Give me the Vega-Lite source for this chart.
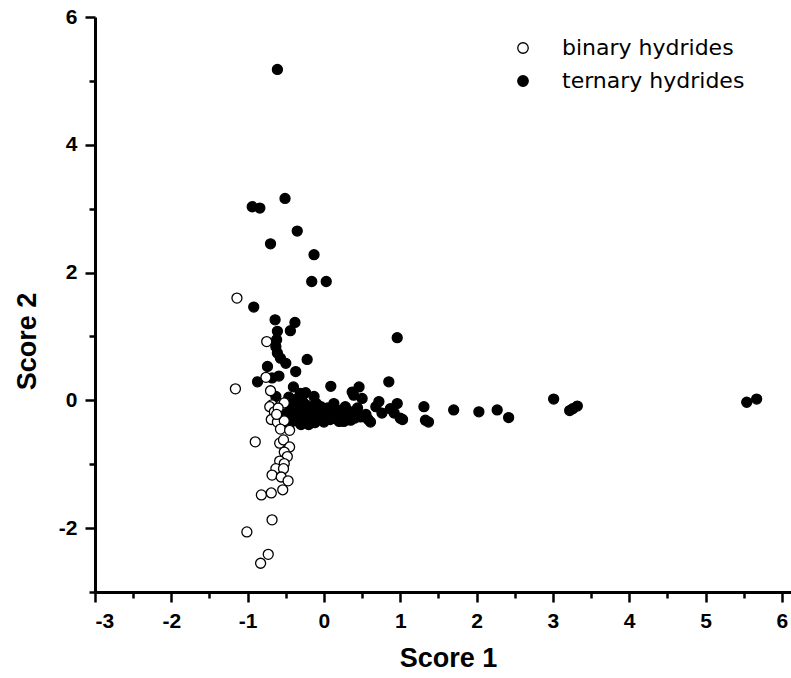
{
  "$schema": "https://vega.github.io/schema/vega-lite/v6.json",
  "autosize": "none",
  "width": 696,
  "height": 575,
  "padding": {"left": 95, "top": 17, "right": 0, "bottom": 86},
  "background": "white",
  "config": {
    "view": {"stroke": null},
    "axis": {
      "grid": false,
      "domainColor": "black",
      "domainWidth": 3,
      "tickColor": "black",
      "tickWidth": 2.5,
      "labelColor": "black",
      "labelFont": "Liberation Sans",
      "labelFontWeight": "bold",
      "labelFontSize": 21,
      "titleFont": "Liberation Sans",
      "titleFontWeight": "bold",
      "titleFontSize": 27,
      "titleColor": "black"
    }
  },
  "datasets": {
    "pts": [
      {"x": -0.61, "y": 5.18, "type": "ternary hydrides"},
      {"x": -0.94, "y": 3.03, "type": "ternary hydrides"},
      {"x": -0.84, "y": 3.01, "type": "ternary hydrides"},
      {"x": -0.51, "y": 3.16, "type": "ternary hydrides"},
      {"x": -0.35, "y": 2.65, "type": "ternary hydrides"},
      {"x": -0.70, "y": 2.45, "type": "ternary hydrides"},
      {"x": -0.13, "y": 2.28, "type": "ternary hydrides"},
      {"x": -0.16, "y": 1.86, "type": "ternary hydrides"},
      {"x": 0.03, "y": 1.86, "type": "ternary hydrides"},
      {"x": -0.92, "y": 1.46, "type": "ternary hydrides"},
      {"x": -0.64, "y": 1.26, "type": "ternary hydrides"},
      {"x": -0.38, "y": 1.22, "type": "ternary hydrides"},
      {"x": -0.44, "y": 1.09, "type": "ternary hydrides"},
      {"x": -0.61, "y": 1.08, "type": "ternary hydrides"},
      {"x": -0.62, "y": 0.95, "type": "ternary hydrides"},
      {"x": -0.63, "y": 0.84, "type": "ternary hydrides"},
      {"x": -0.61, "y": 0.74, "type": "ternary hydrides"},
      {"x": -0.57, "y": 0.66, "type": "ternary hydrides"},
      {"x": -0.22, "y": 0.64, "type": "ternary hydrides"},
      {"x": -0.50, "y": 0.58, "type": "ternary hydrides"},
      {"x": -0.74, "y": 0.53, "type": "ternary hydrides"},
      {"x": -0.37, "y": 0.45, "type": "ternary hydrides"},
      {"x": -0.59, "y": 0.38, "type": "ternary hydrides"},
      {"x": -0.87, "y": 0.29, "type": "ternary hydrides"},
      {"x": -0.68, "y": 0.35, "type": "ternary hydrides"},
      {"x": 0.09, "y": 0.22, "type": "ternary hydrides"},
      {"x": -0.40, "y": 0.21, "type": "ternary hydrides"},
      {"x": -0.24, "y": 0.12, "type": "ternary hydrides"},
      {"x": 0.46, "y": 0.21, "type": "ternary hydrides"},
      {"x": 0.39, "y": 0.08, "type": "ternary hydrides"},
      {"x": -0.63, "y": 0.06, "type": "ternary hydrides"},
      {"x": 0.85, "y": 0.29, "type": "ternary hydrides"},
      {"x": 0.96, "y": 0.98, "type": "ternary hydrides"},
      {"x": 0.37, "y": 0.13, "type": "ternary hydrides"},
      {"x": 0.50, "y": 0.03, "type": "ternary hydrides"},
      {"x": 0.72, "y": -0.02, "type": "ternary hydrides"},
      {"x": 0.96, "y": -0.05, "type": "ternary hydrides"},
      {"x": 1.31, "y": -0.10, "type": "ternary hydrides"},
      {"x": 1.33, "y": -0.31, "type": "ternary hydrides"},
      {"x": 1.37, "y": -0.34, "type": "ternary hydrides"},
      {"x": 1.70, "y": -0.15, "type": "ternary hydrides"},
      {"x": 2.03, "y": -0.18, "type": "ternary hydrides"},
      {"x": 2.27, "y": -0.15, "type": "ternary hydrides"},
      {"x": 2.42, "y": -0.27, "type": "ternary hydrides"},
      {"x": 1.00, "y": -0.28, "type": "ternary hydrides"},
      {"x": 1.03, "y": -0.30, "type": "ternary hydrides"},
      {"x": 0.76, "y": -0.20, "type": "ternary hydrides"},
      {"x": 0.87, "y": -0.13, "type": "ternary hydrides"},
      {"x": 0.68, "y": -0.10, "type": "ternary hydrides"},
      {"x": 0.48, "y": -0.26, "type": "ternary hydrides"},
      {"x": 0.35, "y": -0.31, "type": "ternary hydrides"},
      {"x": 0.22, "y": -0.20, "type": "ternary hydrides"},
      {"x": 0.13, "y": -0.05, "type": "ternary hydrides"},
      {"x": -0.04, "y": -0.10, "type": "ternary hydrides"},
      {"x": 0.00, "y": -0.34, "type": "ternary hydrides"},
      {"x": -0.22, "y": -0.28, "type": "ternary hydrides"},
      {"x": -0.13, "y": 0.06, "type": "ternary hydrides"},
      {"x": -0.31, "y": 0.11, "type": "ternary hydrides"},
      {"x": -0.31, "y": -0.36, "type": "ternary hydrides"},
      {"x": 0.26, "y": -0.33, "type": "ternary hydrides"},
      {"x": 0.61, "y": -0.34, "type": "ternary hydrides"},
      {"x": 0.92, "y": -0.20, "type": "ternary hydrides"},
      {"x": 3.01, "y": 0.02, "type": "ternary hydrides"},
      {"x": 3.22, "y": -0.16, "type": "ternary hydrides"},
      {"x": 3.26, "y": -0.13, "type": "ternary hydrides"},
      {"x": 3.32, "y": -0.09, "type": "ternary hydrides"},
      {"x": 5.54, "y": -0.03, "type": "ternary hydrides"},
      {"x": 5.67, "y": 0.02, "type": "ternary hydrides"},
      {"x": -0.45, "y": -0.05, "type": "ternary hydrides"},
      {"x": -0.42, "y": -0.15, "type": "ternary hydrides"},
      {"x": -0.40, "y": -0.25, "type": "ternary hydrides"},
      {"x": -0.38, "y": -0.32, "type": "ternary hydrides"},
      {"x": -0.35, "y": -0.10, "type": "ternary hydrides"},
      {"x": -0.33, "y": -0.20, "type": "ternary hydrides"},
      {"x": -0.30, "y": -0.28, "type": "ternary hydrides"},
      {"x": -0.28, "y": -0.02, "type": "ternary hydrides"},
      {"x": -0.26, "y": -0.15, "type": "ternary hydrides"},
      {"x": -0.24, "y": -0.33, "type": "ternary hydrides"},
      {"x": -0.22, "y": -0.08, "type": "ternary hydrides"},
      {"x": -0.20, "y": -0.22, "type": "ternary hydrides"},
      {"x": -0.18, "y": -0.30, "type": "ternary hydrides"},
      {"x": -0.16, "y": -0.12, "type": "ternary hydrides"},
      {"x": -0.14, "y": -0.25, "type": "ternary hydrides"},
      {"x": -0.12, "y": -0.35, "type": "ternary hydrides"},
      {"x": -0.10, "y": -0.05, "type": "ternary hydrides"},
      {"x": -0.08, "y": -0.18, "type": "ternary hydrides"},
      {"x": -0.06, "y": -0.28, "type": "ternary hydrides"},
      {"x": -0.04, "y": -0.15, "type": "ternary hydrides"},
      {"x": -0.02, "y": -0.32, "type": "ternary hydrides"},
      {"x": 0.02, "y": -0.22, "type": "ternary hydrides"},
      {"x": 0.05, "y": -0.12, "type": "ternary hydrides"},
      {"x": 0.08, "y": -0.30, "type": "ternary hydrides"},
      {"x": 0.10, "y": -0.20, "type": "ternary hydrides"},
      {"x": 0.14, "y": -0.28, "type": "ternary hydrides"},
      {"x": 0.17, "y": -0.15, "type": "ternary hydrides"},
      {"x": 0.20, "y": -0.33, "type": "ternary hydrides"},
      {"x": 0.25, "y": -0.25, "type": "ternary hydrides"},
      {"x": 0.28, "y": -0.10, "type": "ternary hydrides"},
      {"x": 0.30, "y": -0.30, "type": "ternary hydrides"},
      {"x": 0.35, "y": -0.18, "type": "ternary hydrides"},
      {"x": 0.40, "y": -0.28, "type": "ternary hydrides"},
      {"x": 0.44, "y": -0.12, "type": "ternary hydrides"},
      {"x": 0.55, "y": -0.22, "type": "ternary hydrides"},
      {"x": 0.58, "y": -0.30, "type": "ternary hydrides"},
      {"x": -0.48, "y": -0.20, "type": "ternary hydrides"},
      {"x": -0.50, "y": -0.30, "type": "ternary hydrides"},
      {"x": -0.46, "y": 0.05, "type": "ternary hydrides"},
      {"x": -0.36, "y": 0.02, "type": "ternary hydrides"},
      {"x": -0.30, "y": -0.38, "type": "ternary hydrides"},
      {"x": -0.20, "y": -0.38, "type": "ternary hydrides"},
      {"x": -0.45, "y": -0.36, "type": "ternary hydrides"},
      {"x": -1.14, "y": 1.60, "type": "binary hydrides"},
      {"x": -0.75, "y": 0.92, "type": "binary hydrides"},
      {"x": -0.76, "y": 0.36, "type": "binary hydrides"},
      {"x": -1.16, "y": 0.18, "type": "binary hydrides"},
      {"x": -0.70, "y": 0.15, "type": "binary hydrides"},
      {"x": -0.68, "y": -0.07, "type": "binary hydrides"},
      {"x": -0.52, "y": -0.04, "type": "binary hydrides"},
      {"x": -0.71, "y": -0.10, "type": "binary hydrides"},
      {"x": -0.65, "y": -0.18, "type": "binary hydrides"},
      {"x": -0.60, "y": -0.12, "type": "binary hydrides"},
      {"x": -0.69, "y": -0.30, "type": "binary hydrides"},
      {"x": -0.61, "y": -0.34, "type": "binary hydrides"},
      {"x": -0.52, "y": -0.32, "type": "binary hydrides"},
      {"x": -0.62, "y": -0.22, "type": "binary hydrides"},
      {"x": -0.57, "y": -0.45, "type": "binary hydrides"},
      {"x": -0.45, "y": -0.47, "type": "binary hydrides"},
      {"x": -0.90, "y": -0.65, "type": "binary hydrides"},
      {"x": -0.58, "y": -0.67, "type": "binary hydrides"},
      {"x": -0.53, "y": -0.62, "type": "binary hydrides"},
      {"x": -0.45, "y": -0.73, "type": "binary hydrides"},
      {"x": -0.52, "y": -0.81, "type": "binary hydrides"},
      {"x": -0.48, "y": -0.88, "type": "binary hydrides"},
      {"x": -0.58, "y": -0.95, "type": "binary hydrides"},
      {"x": -0.52, "y": -0.99, "type": "binary hydrides"},
      {"x": -0.63, "y": -1.07, "type": "binary hydrides"},
      {"x": -0.53, "y": -1.07, "type": "binary hydrides"},
      {"x": -0.68, "y": -1.17, "type": "binary hydrides"},
      {"x": -0.56, "y": -1.20, "type": "binary hydrides"},
      {"x": -0.47, "y": -1.26, "type": "binary hydrides"},
      {"x": -0.54, "y": -1.40, "type": "binary hydrides"},
      {"x": -0.82, "y": -1.48, "type": "binary hydrides"},
      {"x": -0.69, "y": -1.45, "type": "binary hydrides"},
      {"x": -0.68, "y": -1.87, "type": "binary hydrides"},
      {"x": -1.01, "y": -2.06, "type": "binary hydrides"},
      {"x": -0.73, "y": -2.41, "type": "binary hydrides"},
      {"x": -0.83, "y": -2.55, "type": "binary hydrides"}
    ]
  },
  "layer": [
    {
      "data": {"name": "pts"},
      "mark": {"type": "point", "shape": "circle", "filled": true, "size": 100, "stroke": "black", "strokeWidth": 1.3, "opacity": 1},
      "encoding": {
        "x": {
          "field": "x", "type": "quantitative",
          "scale": {"domain": [-3, 6.12], "nice": false, "zero": false},
          "axis": {"orient": "bottom", "values": [-3, -2, -1, 0, 1, 2, 3, 4, 5, 6], "tickSize": 10, "labelPadding": 8, "labelExpr": "datum.value < 0 ? '-' + abs(datum.value) : '' + datum.value", "title": "Score 1", "titleX": 353, "titleY": 74, "titleBaseline": "alphabetic", "titleAlign": "center"}
        },
        "y": {
          "field": "y", "type": "quantitative",
          "scale": {"domain": [-3, 6], "nice": false, "zero": false},
          "axis": {"orient": "left", "values": [-2, 0, 2, 4, 6], "tickSize": 10, "labelPadding": 8, "labelExpr": "datum.value < 0 ? '-' + abs(datum.value) : '' + datum.value", "title": "Score 2", "titleX": -68, "titleY": 324, "titleBaseline": "middle", "titleAngle": -90, "titleAlign": "center"}
        },
        "fill": {
          "field": "type", "type": "nominal",
          "scale": {"domain": ["binary hydrides", "ternary hydrides"], "range": ["white", "black"]},
          "legend": {
            "title": null, "orient": "none", "legendX": 417, "legendY": 20,
            "symbolType": "circle", "symbolSize": 110, "symbolStrokeColor": "black", "symbolStrokeWidth": 1.3,
            "labelFont": "DejaVu Sans", "labelFontSize": 22, "labelColor": "black", "labelOffset": 28, "labelLimit": 400,
            "rowPadding": 11, "padding": 0
          }
        }
      }
    },
    {
      "data": {"name": "pts"},
      "mark": {"type": "point", "opacity": 0},
      "encoding": {
        "x": {"field": "x", "type": "quantitative", "axis": {"orient": "bottom", "values": [-2.5, -1.5, -0.5, 0.5, 1.5, 2.5, 3.5, 4.5, 5.5], "tickSize": 6, "labels": false, "domain": false, "title": null}},
        "y": {"field": "y", "type": "quantitative", "axis": {"orient": "left", "values": [-3, -1, 1, 3, 5], "tickSize": 6, "labels": false, "domain": false, "title": null}}
      }
    },
    {
      "mark": {"type": "rule", "color": "black", "strokeWidth": 3},
      "encoding": {"y": {"datum": 6, "axis": null}}
    }
  ],
  "resolve": {"axis": {"x": "independent", "y": "independent"}}
}
